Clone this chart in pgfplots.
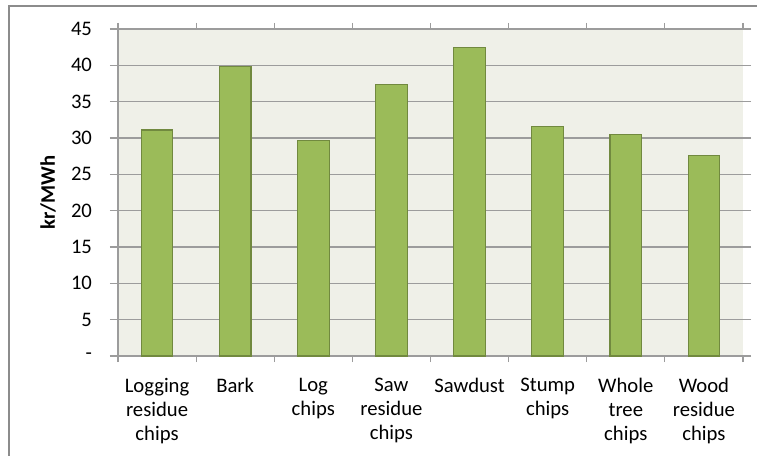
\documentclass[border=0pt]{standalone}
\usepackage{pgfplots}
\pgfplotsset{compat=1.18}
\usepackage{fontspec}
\setmainfont{Carlito}
\definecolor{barfill}{HTML}{9BBB59}
\definecolor{baredge}{HTML}{71893F}
\definecolor{plotbg}{HTML}{EFF0E8}
\definecolor{gridgray}{HTML}{9C9C9C}
\definecolor{framegray}{HTML}{8C8C8C}
\newcommand{\chartfont}{\fontsize{15.5}{18.2}\selectfont}
\begin{document}
\begin{tikzpicture}
% page area (757 x 456 px at 0.75pt per px), origin at top-left
\path[use as bounding box] (0,0) rectangle (567.75pt,-342pt);
\draw[framegray, line width=0.9pt] (6.75pt,-342pt) -- (6.75pt,-4.5pt) -- (567.75pt,-4.5pt);
\begin{axis}[
  at={(88.5pt,-267pt)}, anchor=south west,
  scale only axis, width=468.75pt, height=245.25pt,
  xmin=-0.5, xmax=7.5, ymin=0, ymax=45,
  axis background/.style={fill=plotbg},
  axis line style={draw=none},
  separate axis lines,
  ytick={0,5,...,45},
  yticklabels={-,5,10,15,20,25,30,35,40,45},
  ymajorgrids,
  major grid style={gridgray, line width=0.9pt},
  major y tick style={draw=gridgray, line width=0.9pt},
  major tick length=6pt,
  tick align=outside,
  xtick={0,...,7},
  xticklabels={{Logging\\residue\\chips},{Bark},{Log\\chips},{Saw\\residue\\chips},{Sawdust},{Stump\\chips},{Whole\\tree\\chips},{Wood\\residue\\chips}},
  major x tick style={draw=none},
  minor xtick={-0.5,0.5,...,7.5},
  minor x tick style={draw=gridgray, line width=0.9pt},
  minor tick length=4.5pt,
  xticklabel style={font=\chartfont, align=center, anchor=north, yshift=-7pt},
  yticklabel style={font=\chartfont, anchor=east, xshift=-10pt},
  /pgf/number format/assume math mode=true,
  ylabel={kr/MWh},
  ylabel style={font=\chartfont\bfseries, at={(axis description cs:-0.112,0.5)}, anchor=center},
  clip=false,
]
% axis lines drawn on top of the background
\draw[gridgray, line width=0.9pt] (axis cs:-0.5,45) -- (axis cs:-0.5,0) -- (axis cs:7.5,0);
\addplot[ybar, bar width=23.7pt, fill=barfill, draw=baredge, line width=0.8pt]
  coordinates {(0,31.1) (1,39.8) (2,29.6) (3,37.4) (4,42.5) (5,31.6) (6,30.5) (7,27.6)};
\end{axis}
\end{tikzpicture}
\end{document}
